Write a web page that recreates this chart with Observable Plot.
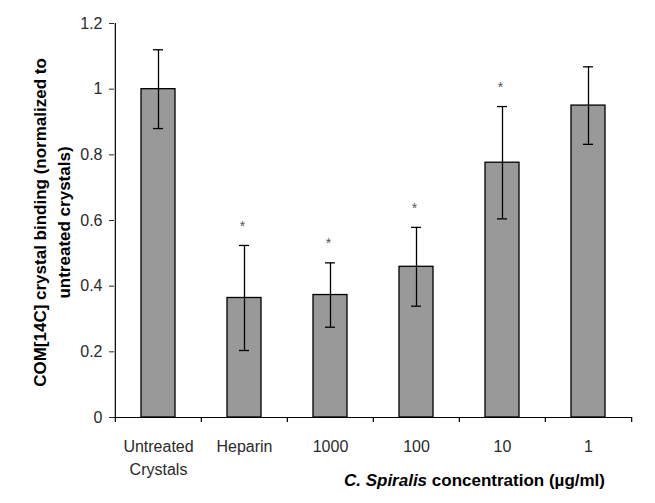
<!DOCTYPE html>
<html>
<head>
<meta charset="utf-8">
<script src="https://cdn.jsdelivr.net/npm/d3@7"></script>
<script src="https://cdn.jsdelivr.net/npm/@observablehq/plot@0.6"></script>
<style>
  html, body { margin: 0; padding: 0; background: #fff; }
  #wrap { position: relative; width: 655px; height: 503px; }
  #caption { position: absolute; right: 50px; top: 471px; font: bold 17px "Liberation Sans", Arial, sans-serif; color: #000; white-space: nowrap; }
</style>
</head>
<body>
<div id="wrap">
  <div id="chart"></div>
  <div id="caption"><i>C. Spiralis</i> concentration (µg/ml)</div>
</div>
<script>
const categories = ["Untreated\nCrystals", "Heparin", "1000", "100", "10", "1"];
const means = [1.0, 0.364, 0.373, 0.459, 0.776, 0.950];
const errors = [0.12, 0.16, 0.098, 0.12, 0.171, 0.118];
const significant = [false, true, true, true, true, false];
const yTicks = [0, 0.2, 0.4, 0.6, 0.8, 1.0, 1.2];
const yTickLabels = ["0", "0.2", "0.4", "0.6", "0.8", "1", "1.2"];
const yTitle = "COM[14C] crystal binding (normalized to\nuntreated crystals)";

const rows = categories.map((c, i) => ({
  cat: c, mean: means[i], lo: means[i] - errors[i], hi: means[i] + errors[i], sig: significant[i]
}));

const W = 655, H = 503, ML = 114, MR = 23, MT = 23, MB = 86;
const step = (W - ML - MR) / categories.length;

const chart = Plot.plot({
  width: W,
  height: H,
  marginLeft: ML,
  marginRight: MR,
  marginTop: MT,
  marginBottom: MB,
  style: { fontFamily: "'Liberation Sans', Arial, sans-serif", fontSize: "16px", color: "#2a2a2a", background: "#fff" },
  x: { domain: categories, paddingInner: 0.6, paddingOuter: 0.3, axis: null },
  y: { domain: [0, 1.2], ticks: yTicks, tickFormat: (d) => yTickLabels[yTicks.indexOf(d)], tickSize: 5, tickPadding: 7, label: null },
  marks: [
    Plot.barY(rows, { x: "cat", y: "mean", fill: "#999999", stroke: "#000", strokeWidth: 1.3 }),
    Plot.ruleX(rows, { x: "cat", y1: "lo", y2: "hi", stroke: "#000", strokeWidth: 1.3 }),
    Plot.tickY(rows, { x: "cat", y: "hi", stroke: "#000", strokeWidth: 1.3, insetLeft: 12, insetRight: 12 }),
    Plot.tickY(rows, { x: "cat", y: "lo", stroke: "#000", strokeWidth: 1.3, insetLeft: 12, insetRight: 12 }),
    Plot.text(rows.filter(d => d.sig), { x: "cat", y: "hi", text: d => "*", dy: -19, dx: -2, fontSize: 14, fill: "#555" }),
    // axis lines and boundary ticks
    Plot.ruleY([0], { stroke: "#000", strokeWidth: 1.2 }),
    Plot.ruleX([categories[0]], { x: d => d, y1: 0, y2: 1.2, dx: -step / 2, stroke: "#000", strokeWidth: 1.2 }),
    Plot.ruleX(categories, { x: d => d, y1: 0, y2: 0, insetBottom: -5, dx: -step / 2, stroke: "#000", strokeWidth: 1.2 }),
    Plot.ruleX([categories[categories.length - 1]], { x: d => d, y1: 0, y2: 0, insetBottom: -5, dx: step / 2, stroke: "#000", strokeWidth: 1.2 }),
    // category labels
    Plot.text(categories, { x: d => d, frameAnchor: "bottom", lineAnchor: "top", dy: 19, lineHeight: 1.4, fontSize: 16, fill: "#2a2a2a" }),
    // y title
    Plot.text([yTitle], { frameAnchor: "left", textAnchor: "middle", lineAnchor: "middle", rotate: -90, dx: -64, dy: 2, fontWeight: "bold", fontSize: 17, lineHeight: 1.41, fill: "#000" })
  ]
});
document.getElementById("chart").appendChild(chart);
</script>
</body>
</html>
